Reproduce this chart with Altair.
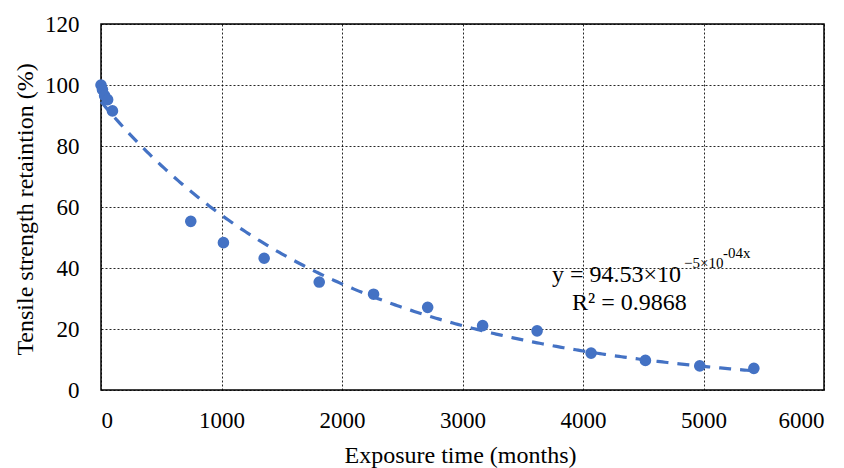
import altair as alt
import pandas as pd

# Measured data (exposure time, tensile strength retention %)
exposure = [0, 12, 30, 55, 95, 745, 1016, 1354, 1811, 2262, 2711, 3167, 3619, 4067, 4518, 4969, 5418]
retention = [100, 98.5, 96.5, 95.2, 91.5, 55.3, 48.3, 43.2, 35.4, 31.4, 27.1, 21.1, 19.4, 12.1, 9.7, 7.9, 7.1]

# Trendline parameters as printed on the chart: y = 94.53 * exp(-5e-4 x)
TREND_A = 94.53
TREND_B = -5e-4
TREND_END = 5418

eq_main = ["y = 94.53×10"]
eq_sup1 = ["−5×10"]
eq_sup2 = ["-04x"]
eq_r2 = ["R² = 0.9868"]

x_ticks = [0, 1000, 2000, 3000, 4000, 5000, 6000]
y_ticks = [0, 20, 40, 60, 80, 100, 120]

BLUE = "#4472C4"
FONT = "'Times New Roman', 'Liberation Serif', Tinos, serif"

df = pd.DataFrame({"x": exposure, "y": retention})

xscale = alt.Scale(domain=[0, 6000], nice=False, zero=False)
yscale = alt.Scale(domain=[0, 120], nice=False)

xaxis = alt.Axis(
    values=x_ticks, title="Exposure time (months)", format="d",
    labelPadding=19, titleX=359, titleY=72, titleBaseline="alphabetic",
    titleAlign="center",
)
yaxis = alt.Axis(
    values=y_ticks, title="Tensile strength retaintion (%)",
    labelPadding=22, titleX=-76, titleY=185, titleAngle=270,
    titleBaseline="middle", titleAlign="center",
)

points = alt.Chart(df).mark_circle(size=135, color=BLUE, opacity=1).encode(
    x=alt.X("x:Q", scale=xscale, axis=xaxis),
    y=alt.Y("y:Q", scale=yscale, axis=yaxis),
)

trend = (
    alt.Chart(alt.sequence(0, TREND_END + 1, 20, as_="x"))
    .transform_calculate(y=f"{TREND_A} * exp({TREND_B} * datum.x)")
    .mark_line(color=BLUE, strokeWidth=3.2, strokeDash=[12, 9])
    .encode(x=alt.X("x:Q", scale=xscale), y=alt.Y("y:Q", scale=yscale))
)

def label(texts, px, py, size):
    return alt.Chart(pd.DataFrame({"t": texts})).mark_text(
        font=FONT, fontSize=size, align="left", baseline="alphabetic", color="black"
    ).encode(x=alt.value(px), y=alt.value(py), text="t:N")

ann = (
    label(eq_main, 451, 258, 24)
    + label(eq_sup1, 583, 244, 15)
    + label(eq_sup2, 622, 234, 15)
    + label(eq_r2, 471, 286, 24)
)

chart = (
    alt.layer(points, trend, ann)
    .properties(
        width=723,
        height=366,
        autosize=alt.AutoSizeParams(type="none"),
        padding={"left": 101, "top": 24, "right": 20, "bottom": 78},
        background="white",
    )
    .configure_view(stroke="black", strokeWidth=1.5)
    .configure_axis(
        labelFont=FONT,
        titleFont=FONT,
        labelFontSize=23,
        titleFontSize=24,
        titleFontWeight="normal",
        labelColor="black",
        titleColor="black",
        domain=False,
        ticks=False,
        grid=True,
        gridColor="black",
        gridDash=[2, 2],
        gridWidth=1,
        gridOpacity=0.85,
    )
)

chart.save("out.html", embed_options={"renderer": "svg", "actions": False})
